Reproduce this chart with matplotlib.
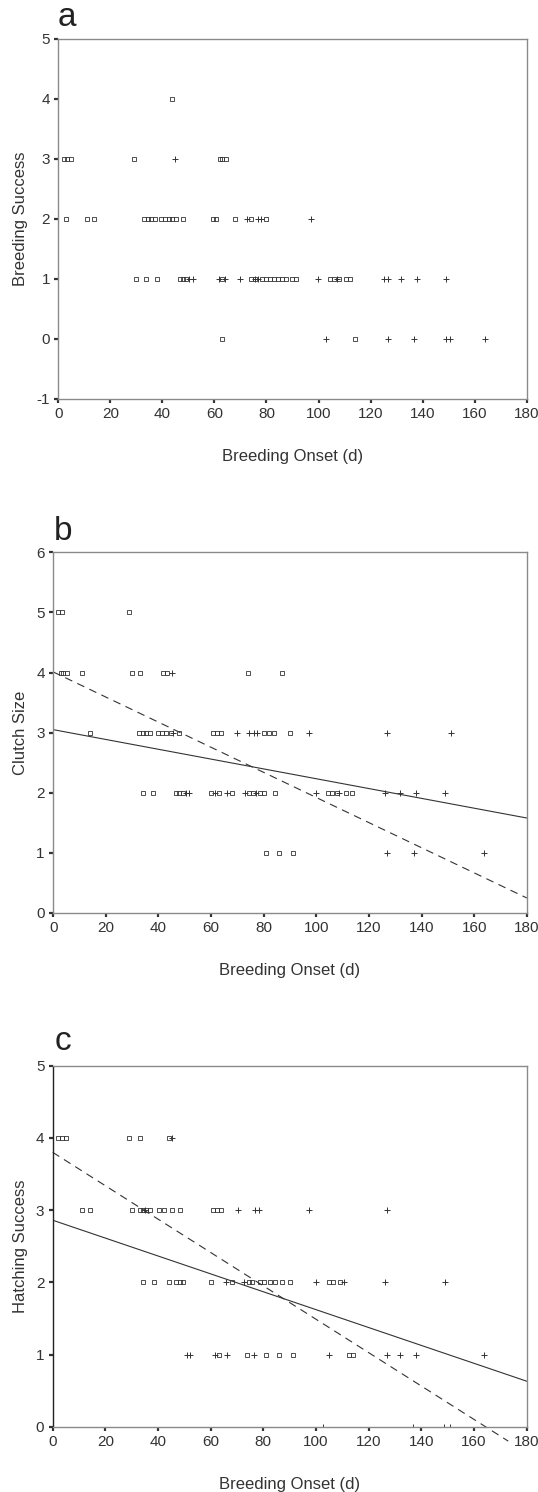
import matplotlib
matplotlib.use("Agg")
import matplotlib.pyplot as plt
import numpy as np

plt.rcParams['font.family'] = ['Liberation Sans', 'DejaVu Sans']
plt.rcParams['axes.unicode_minus'] = False

# ---- data (Breeding Onset in days) ----
# panel a: Breeding Success
a_sq_x = [2, 3.5, 5, 29, 62, 63, 64.3, 43.7,
          3, 11, 13.8, 32.9, 34.4, 35.7, 37.2, 39.6, 41, 42.4, 43.8, 45.2, 48, 59.3, 60.6, 68, 73.9, 79.9,
          29.9, 33.8, 37.8, 46.7, 47.8, 49, 62.9, 73.9, 75.6, 78.2, 79.7, 81.3, 82.8, 84.3, 85.9, 87.4,
          89.9, 91.4, 104.5, 106, 108, 110.5, 112,
          62.9, 113.9]
a_sq_y = [3, 3, 3, 3, 3, 3, 3, 4,
          2, 2, 2, 2, 2, 2, 2, 2, 2, 2, 2, 2, 2, 2, 2, 2, 2, 2,
          1, 1, 1, 1, 1, 1, 1, 1, 1, 1, 1, 1, 1, 1, 1, 1,
          1, 1, 1, 1, 1, 1, 1,
          0, 0]
a_pl_x = [44.9,
          72.6, 76.7, 78, 97,
          50.2, 51.7, 61.6, 64.2, 69.9, 75.6, 76.9, 99.9, 107, 125.3, 126.6, 131.7, 137.9, 148.9,
          102.9, 126.8, 136.8, 148.9, 150.5, 164]
a_pl_y = [3,
          2, 2, 2, 2,
          1, 1, 1, 1, 1, 1, 1, 1, 1, 1, 1, 1, 1, 1,
          0, 0, 0, 0, 0, 0]

# panel b: Clutch Size
b_sq_x = [1.9, 3.3, 28.9,
          2.8, 3.8, 5.1, 11, 30, 32.9, 41.7, 43.2, 73.9, 87,
          14, 32.6, 34, 35.4, 36.8, 40, 41.5, 43, 44.6, 48, 60.7, 62.2, 63.7, 80, 82, 84, 89.9,
          34.3, 38.1, 46.7, 48, 49.3, 60.1, 63, 67.9, 74.3, 75.8, 78.7, 80.2, 84.2, 104.5, 106, 107.7,
          111.1, 113.6,
          80.9, 85.9, 91]
b_sq_y = [5, 5, 5,
          4, 4, 4, 4, 4, 4, 4, 4, 4, 4,
          3, 3, 3, 3, 3, 3, 3, 3, 3, 3, 3, 3, 3, 3, 3, 3, 3,
          2, 2, 2, 2, 2, 2, 2, 2, 2, 2, 2, 2, 2, 2, 2, 2,
          2, 2,
          1, 1, 1]
b_pl_x = [45.1,
          45.7, 69.8, 74.6, 76.2, 77.4, 97.3, 127, 151.1,
          50.5, 51.8, 61.6, 66, 73, 77.2, 99.7, 108.5, 126.1, 131.8, 137.9, 148.9,
          127, 137.1, 163.7]
b_pl_y = [4,
          3, 3, 3, 3, 3, 3, 3, 3,
          2, 2, 2, 2, 2, 2, 2, 2, 2, 2, 2, 2,
          1, 1, 1]
b_solid_x, b_solid_y = [0, 180], [3.05, 1.58]
b_dash_x, b_dash_y = [0, 180], [4.01, 0.25]

# panel c: Hatching Success
c_sq_x = [2.1, 3.5, 5.1, 29.1, 33, 44.1,
          11.1, 14.3, 30, 33, 34.2, 35.5, 37, 40.3, 42.1, 45.3, 48.2, 60.9, 62.4, 63.9,
          34.2, 38.3, 44.1, 46.9, 48.2, 49.4, 60.2, 68.1, 74.4, 75.8, 78.9, 80.4, 82.4, 84.3, 87.1, 90.3,
          104.8, 106.3, 109,
          63, 73.8, 81.1, 86.1, 91.1, 112.4, 114.1]
c_sq_y = [4, 4, 4, 4, 4, 4,
          3, 3, 3, 3, 3, 3, 3, 3, 3, 3, 3, 3, 3, 3,
          2, 2, 2, 2, 2, 2, 2, 2, 2, 2, 2, 2, 2, 2, 2, 2,
          2, 2, 2,
          1, 1, 1, 1, 1, 1, 1]
c_pl_x = [45.4,
          34.9, 70.2, 77, 78.2, 97.2, 127,
          65.9, 72.8, 99.8, 110.5, 126.1, 149,
          51, 52.2, 61.7, 66.2, 76.3, 105.1, 127, 131.8, 137.8, 163.8,
          102.8, 137, 148.7, 150.7]
c_pl_y = [4,
          3, 3, 3, 3, 3, 3,
          2, 2, 2, 2, 2, 2,
          1, 1, 1, 1, 1, 1, 1, 1, 1, 1,
          0, 0, 0, 0]
c_solid_x, c_solid_y = [0, 180], [2.86, 0.63]
c_dash_x, c_dash_y = [0, 173], [3.80, -0.2]

x_ticks = list(range(0, 181, 20))

W, H = 538, 1492
fig = plt.figure(figsize=(W / 100, H / 100), dpi=100)

INK = '#333333'
SPINE = '#8a8a8a'


def make_axes(left, top, right, bottom):
    return fig.add_axes([left / W, 1 - bottom / H, (right - left) / W, (bottom - top) / H])


def style(ax, ylim, ylabel, letter, letter_x, letter_base):
    ax.set_xlim(0, 180)
    ax.set_ylim(*ylim)
    ax.set_xticks(x_ticks)
    ax.set_yticks(range(ylim[0], ylim[1] + 1))
    for s in ax.spines.values():
        s.set_color(SPINE)
        s.set_linewidth(1.0)
    ax.tick_params(direction='out', length=3, width=1.6, color=INK,
                   labelsize=11, labelcolor=INK, pad=3)
    ax.set_xlabel('Breeding Onset (d)', fontsize=12, color=INK, labelpad=20)
    ax.set_ylabel(ylabel, fontsize=12, color=INK, labelpad=6)
    fig.text(letter_x / W, 1 - letter_base / H, letter, fontsize=24,
             color='#222222', ha='left', va='baseline')


def scatter(ax, sx, sy, px, py):
    ax.plot(sx, sy, ls='none', marker='s', ms=3.4, mfc='none', mec=INK, mew=0.6)
    ax.plot(px, py, ls='none', marker='+', ms=4.8, mec=INK, mew=0.7)


ax_a = make_axes(58.3, 38.5, 526.7, 398.5)
scatter(ax_a, a_sq_x, a_sq_y, a_pl_x, a_pl_y)
style(ax_a, (-1, 5), 'Breeding Success', 'a', 58, 26)

ax_b = make_axes(53.2, 552.3, 526.8, 913.0)
scatter(ax_b, b_sq_x, b_sq_y, b_pl_x, b_pl_y)
ax_b.plot(b_solid_x, b_solid_y, color=INK, lw=0.8)
ax_b.plot(b_dash_x, b_dash_y, color=INK, lw=0.8, dashes=(7, 5))
style(ax_b, (0, 6), 'Clutch Size', 'b', 54, 540)

ax_c = make_axes(52.7, 1065.7, 526.7, 1426.7)
scatter(ax_c, c_sq_x, c_sq_y, c_pl_x, c_pl_y)
ax_c.plot(c_solid_x, c_solid_y, color=INK, lw=0.8)
ax_c.plot(c_dash_x, c_dash_y, color=INK, lw=0.8, dashes=(7, 5), clip_on=False)
style(ax_c, (0, 5), 'Hatching Success', 'c', 55, 1050)
ax_c.spines['left'].set_color('#222222')

fig.savefig('out.png', dpi=100, facecolor='white')
